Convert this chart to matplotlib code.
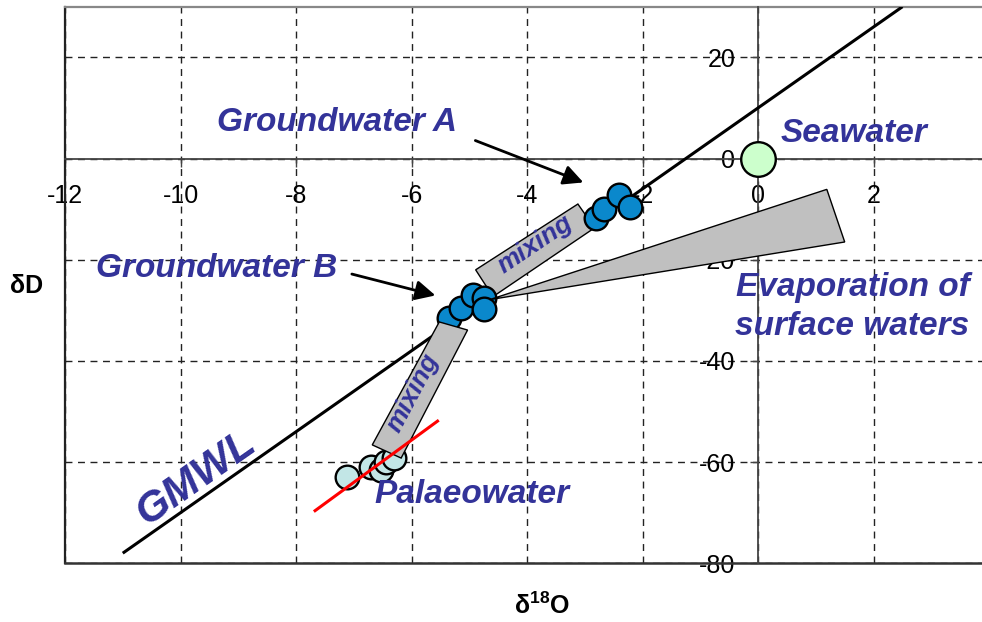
import matplotlib
matplotlib.use("Agg")
import matplotlib.pyplot as plt
from matplotlib.patches import Polygon
import numpy as np

plt.rcParams['font.family'] = ['Liberation Sans', 'DejaVu Sans']
plt.rcParams['mathtext.fontset'] = 'custom'
plt.rcParams['mathtext.rm'] = 'Liberation Sans'
plt.rcParams['mathtext.bf'] = 'Liberation Sans:bold'

# ---- data ----
gmwl_x = [-11.0, 2.5]
gmwl_y = [8 * v + 10 for v in gmwl_x]

gw_a_x = [-2.80, -2.66, -2.40, -2.21]
gw_a_y = [-11.8, -9.9, -7.2, -9.6]

gw_b_x = [-5.36, -5.15, -4.93, -4.75, -4.75]
gw_b_y = [-31.5, -29.6, -27.0, -27.6, -29.8]

palaeo_x = [-7.11, -6.70, -6.53, -6.44, -6.30]
palaeo_y = [-62.9, -60.9, -61.5, -59.9, -59.2]

palaeo_line_x = [-7.67, -5.55]
palaeo_line_y = [-69.6, -51.9]

seawater_x = [0.0]
seawater_y = [0.0]

mix_upper_x = [-4.89, -3.12, -2.83, -4.59]
mix_upper_y = [-22.0, -9.0, -13.7, -27.3]

mix_lower_x = [-5.52, -5.03, -6.18, -6.68]
mix_lower_y = [-32.3, -33.9, -59.2, -56.6]

evap_x = [-4.65, 1.19, 1.50]
evap_y = [-27.9, -6.1, -16.5]

x_ticks = [-12, -10, -8, -6, -4, -2, 0, 2]
y_ticks = [-80, -60, -40, -20, 0, 20]

# ---- figure ----
fig = plt.figure(figsize=(9.82, 6.22), dpi=100)
ax = fig.add_axes([65 / 982, 58.7 / 622, (982 - 65) / 982, (563.3 - 6.7) / 622])
ax.set_xlim(-12, (982 - 758.3) / 57.7)
ax.set_ylim(-80, 30)

txt_col = '#333399'

# grid
ax.set_xticks(x_ticks)
ax.set_yticks(y_ticks)
ax.grid(True, linestyle=(0, (5, 4)), color='#222222', linewidth=1.0, zorder=0)
ax.set_axisbelow(True)

# axes crossing at zero
ax.spines['left'].set_position(('data', 0))
ax.spines['bottom'].set_position(('data', 0))
ax.spines['right'].set_visible(False)
ax.spines['top'].set_visible(False)
for s in ('left', 'bottom'):
    ax.spines[s].set_color('#444444')
    ax.spines[s].set_linewidth(1.3)
    ax.spines[s].set_zorder(1)
ax.tick_params(axis='both', direction='out', length=5.5, width=1, color='#444444',
               labelsize=18, labelcolor='black')
ax.tick_params(axis='x', pad=12.5)
ax.tick_params(axis='y', pad=11)
ax.set_xticklabels([str(v) for v in x_ticks])
ax.set_yticklabels([str(v) for v in y_ticks])

# outer frame (left, top, bottom)
ax.plot([0, 0], [0, 1], transform=ax.transAxes, color='#222222', lw=1.6, clip_on=False, zorder=1)
ax.plot([0, 1], [1, 1], transform=ax.transAxes, color='#888888', lw=1.6, clip_on=False, zorder=1)
ax.plot([0, 1], [0, 0], transform=ax.transAxes, color='#333333', lw=1.8, clip_on=False, zorder=1)

# GMWL
ax.plot(gmwl_x, gmwl_y, color='black', lw=2.2, zorder=2, solid_capstyle='butt')

# mixing boxes and evaporation wedge
ax.add_patch(Polygon(np.column_stack([mix_upper_x, mix_upper_y]), closed=True,
                     facecolor='#c0c0c0', edgecolor='black', lw=1.0, zorder=3))
ax.add_patch(Polygon(np.column_stack([mix_lower_x, mix_lower_y]), closed=True,
                     facecolor='#c0c0c0', edgecolor='black', lw=1.0, zorder=5))
ax.add_patch(Polygon(np.column_stack([evap_x, evap_y]), closed=True,
                     facecolor='#c0c0c0', edgecolor='black', lw=1.0, zorder=5))

# points
ax.scatter(gw_a_x, gw_a_y, s=290, facecolor='#0a88cc', edgecolor='black', linewidth=1.7, zorder=4)
ax.scatter(gw_b_x, gw_b_y, s=290, facecolor='#0a88cc', edgecolor='black', linewidth=1.7, zorder=4)
ax.scatter(palaeo_x, palaeo_y, s=290, facecolor='#c2e6e6', edgecolor='black', linewidth=1.7, zorder=4)
ax.scatter(seawater_x, seawater_y, s=620, facecolor='#ccffcc', edgecolor='black', linewidth=1.7, zorder=4)

ax.plot(palaeo_line_x, palaeo_line_y, color='red', lw=2.2, zorder=6)

# arrows
ax.annotate('', xy=(-2.98, -4.93), xytext=(-4.94, 3.75),
            arrowprops=dict(arrowstyle='-|>,head_length=0.6,head_width=0.3', color='black', lw=2,
                            mutation_scale=20), zorder=7)
ax.annotate('', xy=(-5.54, -27.2), xytext=(-7.08, -22.7),
            arrowprops=dict(arrowstyle='-|>,head_length=0.6,head_width=0.3', color='black', lw=2,
                            mutation_scale=20), zorder=7)

tk = dict(color=txt_col, fontweight='bold', fontstyle='italic', ha='center', va='center', zorder=8)
ax.text(-7.29, 7.17, 'Groundwater A', fontsize=24, **tk)
ax.text(-9.38, -21.65, 'Groundwater B', fontsize=24, **tk)
ax.text(1.66, 5.0, 'Seawater', fontsize=24, **tk)
ax.text(1.64, -25.4, 'Evaporation of', fontsize=24, **tk)
ax.text(1.62, -33.3, 'surface waters', fontsize=24, **tk)
ax.text(-4.96, -66.5, 'Palaeowater', fontsize=24, **tk)
ax.text(-9.72, -63.1, 'GMWL', fontsize=31, rotation=35, **tk)
ax.text(-3.86, -16.9, 'mixing', fontsize=19, rotation=34, **tk)
ax.text(-5.98, -46.4, 'mixing', fontsize=19, rotation=62, **tk)

fig.text(27 / 982, 1 - 286 / 622, 'δD', fontsize=18, fontweight='bold', ha='center', va='center')
fig.text(542 / 982, 1 - 606 / 622, 'δ$^{\\mathbf{18}}$O', fontsize=18, fontweight='bold',
         ha='center', va='center')

fig.savefig('out.png', dpi=100)
